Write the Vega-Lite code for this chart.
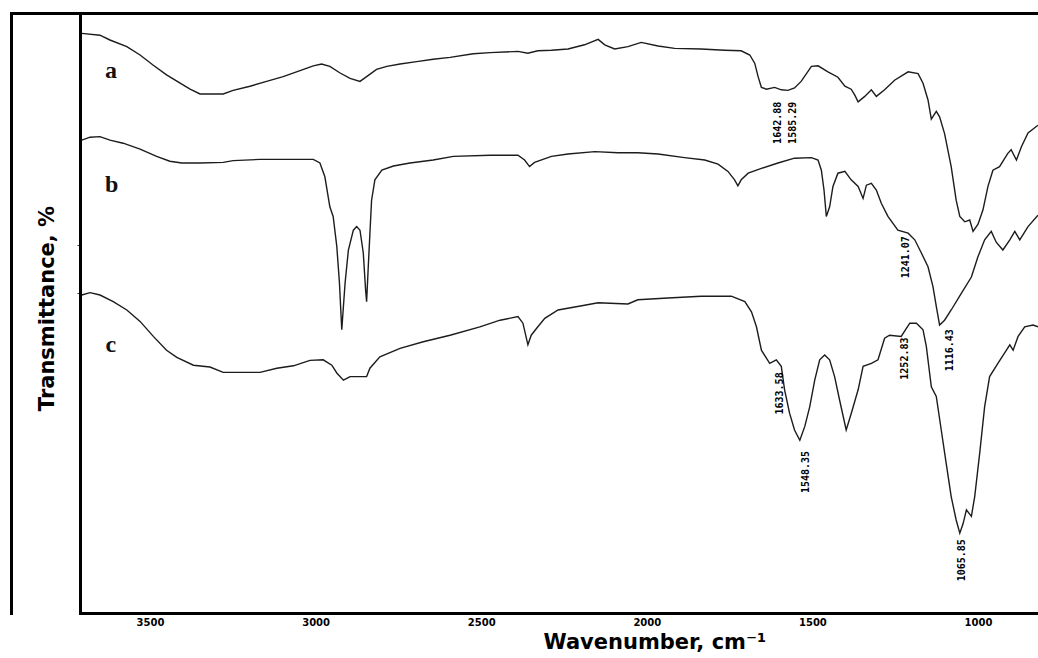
{
  "$schema": "https://vega.github.io/schema/vega-lite/v6.json",
  "width": 958,
  "height": 600,
  "autosize": {"type": "none"},
  "padding": {"left": 80, "top": 13, "right": 0, "bottom": 45},
  "background": "white",
  "config": {"view": {"stroke": null}, "axis": {"grid": false}},
  "datasets": {
    "spectra": [
      {"s":"a","w":3706,"t":96.6},{"s":"a","w":3651,"t":96.3},{"s":"a","w":3621,"t":95.5},{"s":"a","w":3570,"t":94.4},{"s":"a","w":3530,"t":93.0},{"s":"a","w":3490,"t":91.3},{"s":"a","w":3450,"t":89.7},{"s":"a","w":3409,"t":88.3},{"s":"a","w":3379,"t":87.3},{"s":"a","w":3349,"t":86.5},{"s":"a","w":3279,"t":86.5},{"s":"a","w":3249,"t":87.1},{"s":"a","w":3198,"t":87.8},{"s":"a","w":3148,"t":88.6},{"s":"a","w":3098,"t":89.4},{"s":"a","w":3047,"t":90.4},{"s":"a","w":3007,"t":91.2},{"s":"a","w":2982,"t":91.5},{"s":"a","w":2957,"t":91.1},{"s":"a","w":2926,"t":90.0},{"s":"a","w":2896,"t":89.1},{"s":"a","w":2866,"t":88.6},{"s":"a","w":2846,"t":89.4},{"s":"a","w":2816,"t":90.6},{"s":"a","w":2785,"t":91.1},{"s":"a","w":2745,"t":91.5},{"s":"a","w":2695,"t":91.9},{"s":"a","w":2645,"t":92.3},{"s":"a","w":2594,"t":92.6},{"s":"a","w":2524,"t":93.2},{"s":"a","w":2473,"t":93.4},{"s":"a","w":2389,"t":93.6},{"s":"a","w":2359,"t":93.3},{"s":"a","w":2329,"t":93.7},{"s":"a","w":2288,"t":93.8},{"s":"a","w":2238,"t":94.0},{"s":"a","w":2188,"t":94.7},{"s":"a","w":2147,"t":95.6},{"s":"a","w":2127,"t":94.7},{"s":"a","w":2097,"t":94.0},{"s":"a","w":2057,"t":94.4},{"s":"a","w":2017,"t":95.1},{"s":"a","w":1966,"t":94.5},{"s":"a","w":1916,"t":94.1},{"s":"a","w":1836,"t":94.0},{"s":"a","w":1765,"t":93.8},{"s":"a","w":1715,"t":93.7},{"s":"a","w":1689,"t":93.0},{"s":"a","w":1674,"t":91.6},{"s":"a","w":1664,"t":89.4},{"s":"a","w":1654,"t":87.6},{"s":"a","w":1639,"t":87.3},{"s":"a","w":1614,"t":87.6},{"s":"a","w":1594,"t":87.2},{"s":"a","w":1574,"t":87.1},{"s":"a","w":1554,"t":87.5},{"s":"a","w":1534,"t":88.6},{"s":"a","w":1503,"t":91.1},{"s":"a","w":1483,"t":91.2},{"s":"a","w":1453,"t":90.2},{"s":"a","w":1423,"t":89.3},{"s":"a","w":1402,"t":87.8},{"s":"a","w":1383,"t":87.3},{"s":"a","w":1372,"t":86.3},{"s":"a","w":1362,"t":85.2},{"s":"a","w":1342,"t":86.1},{"s":"a","w":1322,"t":87.2},{"s":"a","w":1307,"t":86.1},{"s":"a","w":1282,"t":87.2},{"s":"a","w":1252,"t":88.8},{"s":"a","w":1211,"t":90.2},{"s":"a","w":1181,"t":89.9},{"s":"a","w":1166,"t":88.3},{"s":"a","w":1151,"t":85.5},{"s":"a","w":1141,"t":82.3},{"s":"a","w":1126,"t":83.6},{"s":"a","w":1116,"t":82.7},{"s":"a","w":1101,"t":79.9},{"s":"a","w":1081,"t":74.4},{"s":"a","w":1066,"t":68.8},{"s":"a","w":1055,"t":66.1},{"s":"a","w":1040,"t":65.2},{"s":"a","w":1025,"t":65.5},{"s":"a","w":1015,"t":63.6},{"s":"a","w":1000,"t":64.8},{"s":"a","w":985,"t":67.2},{"s":"a","w":970,"t":71.1},{"s":"a","w":955,"t":73.8},{"s":"a","w":935,"t":74.4},{"s":"a","w":910,"t":76.6},{"s":"a","w":900,"t":77.2},{"s":"a","w":884,"t":75.5},{"s":"a","w":869,"t":77.7},{"s":"a","w":849,"t":80.0},{"s":"a","w":819,"t":81.3},
      {"s":"b","w":3706,"t":78.8},{"s":"b","w":3681,"t":79.3},{"s":"b","w":3651,"t":79.4},{"s":"b","w":3621,"t":78.8},{"s":"b","w":3581,"t":78.3},{"s":"b","w":3530,"t":77.3},{"s":"b","w":3480,"t":76.1},{"s":"b","w":3440,"t":75.3},{"s":"b","w":3404,"t":75.0},{"s":"b","w":3349,"t":75.0},{"s":"b","w":3279,"t":75.1},{"s":"b","w":3249,"t":75.4},{"s":"b","w":3168,"t":75.6},{"s":"b","w":3007,"t":75.6},{"s":"b","w":2987,"t":75.0},{"s":"b","w":2972,"t":72.7},{"s":"b","w":2957,"t":67.7},{"s":"b","w":2947,"t":66.1},{"s":"b","w":2936,"t":61.1},{"s":"b","w":2928,"t":55.0},{"s":"b","w":2921,"t":47.2},{"s":"b","w":2911,"t":55.0},{"s":"b","w":2901,"t":60.5},{"s":"b","w":2886,"t":63.8},{"s":"b","w":2876,"t":64.4},{"s":"b","w":2866,"t":63.8},{"s":"b","w":2856,"t":60.0},{"s":"b","w":2849,"t":53.8},{"s":"b","w":2846,"t":51.9},{"s":"b","w":2841,"t":57.7},{"s":"b","w":2836,"t":63.3},{"s":"b","w":2831,"t":68.8},{"s":"b","w":2821,"t":72.2},{"s":"b","w":2800,"t":73.8},{"s":"b","w":2765,"t":74.5},{"s":"b","w":2715,"t":75.0},{"s":"b","w":2645,"t":75.5},{"s":"b","w":2584,"t":76.1},{"s":"b","w":2473,"t":76.3},{"s":"b","w":2389,"t":76.3},{"s":"b","w":2369,"t":75.5},{"s":"b","w":2354,"t":74.4},{"s":"b","w":2339,"t":75.1},{"s":"b","w":2288,"t":76.1},{"s":"b","w":2238,"t":76.5},{"s":"b","w":2157,"t":76.9},{"s":"b","w":2087,"t":76.7},{"s":"b","w":2027,"t":76.7},{"s":"b","w":1966,"t":76.5},{"s":"b","w":1886,"t":75.9},{"s":"b","w":1825,"t":75.5},{"s":"b","w":1785,"t":74.8},{"s":"b","w":1755,"t":73.6},{"s":"b","w":1735,"t":72.2},{"s":"b","w":1725,"t":71.2},{"s":"b","w":1715,"t":72.2},{"s":"b","w":1694,"t":73.3},{"s":"b","w":1654,"t":74.1},{"s":"b","w":1604,"t":75.0},{"s":"b","w":1554,"t":75.8},{"s":"b","w":1503,"t":75.9},{"s":"b","w":1483,"t":75.5},{"s":"b","w":1473,"t":73.8},{"s":"b","w":1465,"t":70.5},{"s":"b","w":1458,"t":66.1},{"s":"b","w":1448,"t":67.7},{"s":"b","w":1438,"t":71.1},{"s":"b","w":1423,"t":73.3},{"s":"b","w":1402,"t":73.6},{"s":"b","w":1383,"t":72.2},{"s":"b","w":1362,"t":71.1},{"s":"b","w":1347,"t":69.1},{"s":"b","w":1337,"t":71.3},{"s":"b","w":1322,"t":71.6},{"s":"b","w":1307,"t":70.5},{"s":"b","w":1292,"t":68.3},{"s":"b","w":1272,"t":66.1},{"s":"b","w":1242,"t":63.8},{"s":"b","w":1211,"t":63.3},{"s":"b","w":1191,"t":62.2},{"s":"b","w":1171,"t":60.0},{"s":"b","w":1151,"t":57.7},{"s":"b","w":1136,"t":54.4},{"s":"b","w":1126,"t":51.1},{"s":"b","w":1116,"t":48.0},{"s":"b","w":1101,"t":48.8},{"s":"b","w":1081,"t":50.5},{"s":"b","w":1050,"t":53.3},{"s":"b","w":1020,"t":56.0},{"s":"b","w":1000,"t":59.4},{"s":"b","w":980,"t":62.2},{"s":"b","w":960,"t":63.6},{"s":"b","w":945,"t":61.8},{"s":"b","w":925,"t":60.5},{"s":"b","w":904,"t":62.2},{"s":"b","w":889,"t":63.6},{"s":"b","w":874,"t":62.2},{"s":"b","w":849,"t":64.4},{"s":"b","w":819,"t":66.3},
      {"s":"c","w":3706,"t":53.0},{"s":"c","w":3681,"t":53.4},{"s":"c","w":3651,"t":53.0},{"s":"c","w":3611,"t":51.9},{"s":"c","w":3570,"t":50.5},{"s":"c","w":3530,"t":48.6},{"s":"c","w":3490,"t":46.1},{"s":"c","w":3450,"t":43.8},{"s":"c","w":3419,"t":42.6},{"s":"c","w":3369,"t":41.3},{"s":"c","w":3319,"t":41.0},{"s":"c","w":3279,"t":40.1},{"s":"c","w":3168,"t":40.1},{"s":"c","w":3117,"t":40.8},{"s":"c","w":3067,"t":41.2},{"s":"c","w":3017,"t":42.1},{"s":"c","w":2977,"t":42.2},{"s":"c","w":2951,"t":41.3},{"s":"c","w":2936,"t":40.0},{"s":"c","w":2916,"t":38.8},{"s":"c","w":2896,"t":39.4},{"s":"c","w":2846,"t":39.4},{"s":"c","w":2836,"t":40.8},{"s":"c","w":2806,"t":42.7},{"s":"c","w":2745,"t":44.1},{"s":"c","w":2675,"t":45.2},{"s":"c","w":2594,"t":46.3},{"s":"c","w":2504,"t":47.7},{"s":"c","w":2443,"t":48.8},{"s":"c","w":2389,"t":49.4},{"s":"c","w":2374,"t":48.3},{"s":"c","w":2359,"t":44.7},{"s":"c","w":2349,"t":46.3},{"s":"c","w":2329,"t":47.7},{"s":"c","w":2308,"t":49.1},{"s":"c","w":2268,"t":50.5},{"s":"c","w":2188,"t":51.3},{"s":"c","w":2147,"t":51.7},{"s":"c","w":2057,"t":51.5},{"s":"c","w":2027,"t":52.2},{"s":"c","w":1936,"t":52.5},{"s":"c","w":1836,"t":52.8},{"s":"c","w":1745,"t":52.8},{"s":"c","w":1704,"t":51.9},{"s":"c","w":1684,"t":50.2},{"s":"c","w":1669,"t":47.7},{"s":"c","w":1654,"t":43.8},{"s":"c","w":1629,"t":41.6},{"s":"c","w":1609,"t":42.2},{"s":"c","w":1594,"t":41.1},{"s":"c","w":1584,"t":37.2},{"s":"c","w":1569,"t":33.3},{"s":"c","w":1554,"t":30.5},{"s":"c","w":1538,"t":28.8},{"s":"c","w":1523,"t":31.1},{"s":"c","w":1508,"t":34.4},{"s":"c","w":1493,"t":38.8},{"s":"c","w":1478,"t":42.2},{"s":"c","w":1463,"t":43.0},{"s":"c","w":1448,"t":42.2},{"s":"c","w":1433,"t":39.4},{"s":"c","w":1418,"t":35.5},{"s":"c","w":1398,"t":30.5},{"s":"c","w":1383,"t":33.2},{"s":"c","w":1362,"t":37.2},{"s":"c","w":1347,"t":41.1},{"s":"c","w":1322,"t":41.6},{"s":"c","w":1302,"t":42.2},{"s":"c","w":1282,"t":45.8},{"s":"c","w":1267,"t":46.3},{"s":"c","w":1232,"t":46.1},{"s":"c","w":1206,"t":48.3},{"s":"c","w":1186,"t":48.3},{"s":"c","w":1166,"t":47.2},{"s":"c","w":1156,"t":44.4},{"s":"c","w":1141,"t":37.7},{"s":"c","w":1126,"t":36.1},{"s":"c","w":1111,"t":30.5},{"s":"c","w":1096,"t":24.9},{"s":"c","w":1081,"t":19.4},{"s":"c","w":1066,"t":15.5},{"s":"c","w":1055,"t":13.3},{"s":"c","w":1045,"t":14.9},{"s":"c","w":1035,"t":17.2},{"s":"c","w":1020,"t":16.1},{"s":"c","w":1010,"t":19.4},{"s":"c","w":995,"t":26.6},{"s":"c","w":980,"t":34.4},{"s":"c","w":965,"t":39.4},{"s":"c","w":940,"t":41.6},{"s":"c","w":920,"t":43.3},{"s":"c","w":904,"t":44.7},{"s":"c","w":894,"t":43.8},{"s":"c","w":879,"t":46.1},{"s":"c","w":859,"t":47.7},{"s":"c","w":834,"t":48.0},{"s":"c","w":819,"t":47.7}
    ],
    "peaks": [
      {"w":1604,"t":81.7,"label":"1642.88"},
      {"w":1559,"t":81.7,"label":"1585.29"},
      {"w":1217,"t":59.3,"label":"1241.07"},
      {"w":1085,"t":43.8,"label":"1116.43"},
      {"w":1598,"t":36.6,"label":"1633.58"},
      {"w":1519,"t":23.5,"label":"1548.35"},
      {"w":1220,"t":42.4,"label":"1252.83"},
      {"w":1048,"t":8.8,"label":"1065.85"}
    ],
    "names": [
      {"w":3618,"t":89.2,"name":"a"},
      {"w":3616,"t":70.2,"name":"b"},
      {"w":3618,"t":43.5,"name":"c"}
    ]
  },
  "layer": [
    {
      "data": {"name": "spectra"},
      "mark": {"type": "line", "color": "#1c1c1c", "strokeWidth": 1.4, "clip": true},
      "encoding": {
        "x": {
          "field": "w", "type": "quantitative",
          "scale": {"domain": [818.9, 3711.35], "reverse": true, "nice": false, "zero": false},
          "axis": {
            "orient": "bottom",
            "values": [3500, 3000, 2500, 2000, 1500, 1000],
            "format": "d",
            "domain": true, "domainColor": "black", "domainWidth": 3, "domainCap": "square",
            "ticks": false,
            "labelFont": "DejaVu Sans", "labelFontWeight": "bold", "labelFontSize": 10, "labelColor": "black",
            "labelPadding": 4, "labelFlush": false, "labelOverlap": false,
            "title": "Wavenumber, cm⁻¹",
            "titleFont": "DejaVu Sans", "titleFontSize": 21, "titleFontWeight": "bold", "titleColor": "black",
            "titleAlign": "left", "titleBaseline": "alphabetic", "titleX": 463, "titleY": 35
          }
        },
        "y": {
          "field": "t", "type": "quantitative",
          "scale": {"domain": [0, 100], "nice": false, "zero": false},
          "axis": {
            "orient": "left", "offset": 0,
            "domain": true, "domainColor": "black", "domainWidth": 3, "domainCap": "square",
            "values": [61.3, 53.3], "ticks": true, "tickSize": 3, "tickWidth": 1, "tickColor": "#333",
            "labels": false,
            "title": "Transmittance, %",
            "titleFont": "DejaVu Sans", "titleFontSize": 21, "titleFontWeight": "bold", "titleColor": "black",
            "titleAngle": 270, "titleAlign": "center", "titleBaseline": "middle", "titleX": -32.5, "titleY": 295
          }
        },
        "detail": {"field": "s", "type": "nominal"}
      }
    },
    {
      "data": {"name": "peaks"},
      "mark": {"type": "text", "angle": 270, "font": "DejaVu Sans Mono", "fontWeight": "bold", "fontSize": 10, "align": "center", "baseline": "middle", "color": "black"},
      "encoding": {
        "x": {
          "field": "w", "type": "quantitative",
          "scale": {"domain": [818.9, 3711.35], "reverse": true, "nice": false, "zero": false},
          "axis": {"orient": "top", "domain": true, "domainColor": "black", "domainWidth": 3, "domainCap": "square", "ticks": false, "labels": false, "title": null}
        },
        "y": {
          "field": "t", "type": "quantitative",
          "scale": {"domain": [0, 100], "nice": false, "zero": false},
          "axis": {"orient": "left", "offset": 69, "domain": true, "domainColor": "black", "domainWidth": 3, "domainCap": "square", "values": [100], "ticks": true, "tickSize": -69, "tickWidth": 3, "tickColor": "black", "tickCap": "square", "labels": false, "title": null}
        },
        "text": {"field": "label", "type": "nominal"}
      }
    },
    {
      "data": {"name": "names"},
      "mark": {"type": "text", "font": "Liberation Serif", "fontWeight": "bold", "fontSize": 24, "align": "center", "baseline": "alphabetic", "color": "#111"},
      "encoding": {
        "x": {"field": "w", "type": "quantitative", "scale": {"domain": [818.9, 3711.35], "reverse": true, "nice": false, "zero": false}, "axis": null},
        "y": {"field": "t", "type": "quantitative", "scale": {"domain": [0, 100], "nice": false, "zero": false}, "axis": null},
        "text": {"field": "name", "type": "nominal"}
      }
    }
  ],
  "resolve": {"axis": {"x": "independent", "y": "independent"}}
}
